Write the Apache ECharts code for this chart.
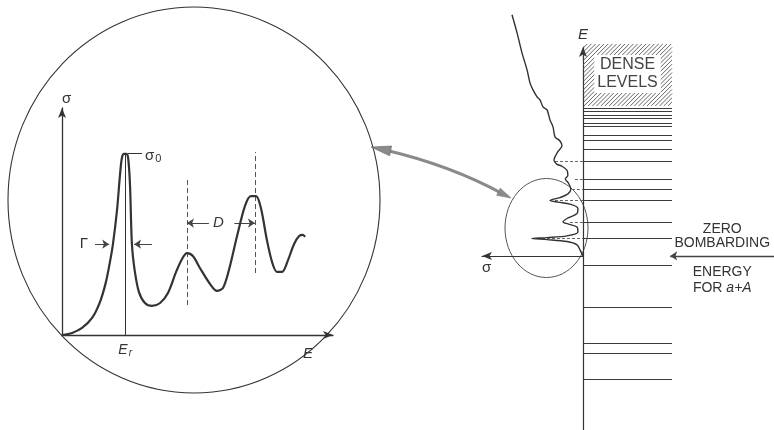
<!DOCTYPE html>
<html>
<head>
<meta charset="utf-8">
<script src="https://cdn.jsdelivr.net/npm/echarts@6/dist/echarts.min.js"></script>
<style>
  html, body { margin: 0; padding: 0; background: #fff; }
  #chart { width: 774px; height: 430px; }
</style>
</head>
<body>
<div id="chart"></div>
<script>
// ---------- magnified cross-section sigma(E) ----------
const resonanceCurve = [
  [0, 0], [0.37, 0.09], [0.74, 0.31], [1.11, 0.75], [1.40, 1.45], [1.62, 2.33],
  [1.77, 3.22], [1.88, 4.0], [2.03, 5.5], [2.14, 7.05], [2.21, 7.8], [2.29, 7.98],
  [2.37, 7.98], [2.44, 7.8], [2.51, 6.6], [2.58, 4.0], [2.69, 2.78], [2.84, 1.89],
  [3.06, 1.41], [3.32, 1.28], [3.62, 1.41], [3.91, 1.85], [4.21, 2.78], [4.43, 3.35],
  [4.61, 3.61], [4.83, 3.48], [5.09, 2.95], [5.46, 2.25], [5.72, 1.94], [5.94, 2.07],
  [6.16, 2.86], [6.46, 4.36], [6.75, 5.68], [6.97, 6.12], [7.16, 6.12], [7.34, 5.59],
  [7.56, 4.19], [7.75, 3.22], [7.93, 2.78], [8.12, 2.78], [8.34, 3.30], [8.56, 4.0],
  [8.75, 4.36], [8.89, 4.41], [8.97, 4.32]
];
const resonanceEnergy = 2.33;      // E_r
const peakCrossSection = 8;        // sigma_0
const peakShoulder = 2.44;         // right edge of the peak top
const leaderEnd = 2.95;
const spacingGuides = [[4.61, 1.32, 6.96], [7.12, 2.73, 8.06]];   // [E, sigma from, sigma to]
const widthHeight = 4.0;                                        // sigma where Gamma is marked
const widthArrows = [[1.22, 1.74], [3.32, 2.66]];               // [tail E, tip E]
const spacingHeight = 4.93;                                     // sigma where D is marked
const spacingArrows = [[5.42, 4.61], [6.36, 7.12]];             // [tail E, tip E]

// ---------- compound-nucleus levels ----------
const excitationCurve = [   // [sigma, E]
  [7.03, 11.08], [6.53, 10.25], [6.04, 9.33], [5.54, 8.55], [5.25, 7.95], [4.95, 7.63],
  [4.55, 7.31], [4.26, 7.17], [3.96, 6.85], [3.56, 6.71], [3.27, 6.25], [2.97, 5.93],
  [2.77, 5.47], [2.28, 5.28], [2.08, 5.06], [2.50, 4.78], [2.87, 4.40], [2.60, 4.22],
  [2.08, 4.12], [1.58, 3.93], [1.50, 3.70], [1.75, 3.53], [1.45, 3.35], [1.20, 3.07],
  [1.49, 2.85], [2.28, 2.68], [3.27, 2.55], [2.48, 2.47], [1.29, 2.38], [0.50, 2.18],
  [0.59, 1.95], [1.58, 1.72], [1.98, 1.56], [1.49, 1.47], [0.59, 1.33], [0.50, 1.10],
  [1.58, 0.92], [3.56, 0.84], [5.05, 0.80], [3.56, 0.75], [1.58, 0.66], [0.59, 0.51],
  [0.30, 0.28], [0, 0]
];
const peakLinks = [[2.77, 4.36], [0.8, 3.53], [1.1, 3.07], [2.77, 2.55], [1.3, 1.56], [4.06, 0.80]]; // [sigma, E]
const levelEnergies = [
  6.80, 6.64, 6.48, 6.31, 6.11, 5.97, 5.56, 5.33, 4.91, 4.36, 3.53, 3.07,
  2.55, 1.56, 0.80, -0.44, -2.35, -4.00, -4.46, -5.66
];
const denseBand = [6.89, 9.74];
const bombardingZero = 0;
const energyRange = [-8, 9.6];

const INK = '#333';
const FONT = 'Liberation Sans';

const chart = echarts.init(document.getElementById('chart'));

function arrowAxisLine(width, symbol) {
  return { show: true, symbol: symbol || ['none', 'arrow'], symbolSize: [6, 10],
           lineStyle: { color: INK, width: width } };
}

function segment(a, b) { return { coords: [a, b] }; }

// arrowhead polygon for the connector between the two views
function arrowHead(tip, from, len, half) {
  const dx = tip[0] - from[0], dy = tip[1] - from[1];
  const d = Math.hypot(dx, dy), ux = dx / d, uy = dy / d;
  const bx = tip[0] - ux * len, by = tip[1] - uy * len;
  return [tip, [bx - uy * half, by + ux * half], [bx + uy * half, by - ux * half]];
}

const connStart = [371, 147], connEnd = [511, 198], connCtrl = [450, 165];

const option = {
  animation: false,
  backgroundColor: '#fff',
  textStyle: { fontFamily: FONT, color: INK },
  grid: [
    { left: 62, top: 108, width: 271, height: 227 },
    { left: 482, top: 47, width: 101, height: 383 },
    { left: 583, top: 47, width: 89, height: 383 }
  ],
  xAxis: [
    {
      gridIndex: 0, type: 'value', min: 0, max: 10,
      axisLine: arrowAxisLine(1.3), axisTick: { show: false }, splitLine: { show: false },
      axisLabel: {
        customValues: [resonanceEnergy], margin: 7,
        formatter: () => '{e|E}{r|r}',
        rich: {
          e: { fontSize: 14, fontStyle: 'italic', color: INK, fontFamily: FONT },
          r: { fontSize: 10, fontStyle: 'italic', color: INK, fontFamily: FONT, padding: [6, 0, 0, 1] }
        }
      },
      name: 'E', nameLocation: 'end', nameGap: -25,
      nameTextStyle: { fontSize: 15, fontStyle: 'italic', align: 'center', verticalAlign: 'top', padding: [11, 0, 0, 0], color: INK }
    },
    {
      gridIndex: 1, type: 'value', min: 0, max: 10, inverse: true,
      axisLine: Object.assign(arrowAxisLine(1.2, ['arrow', 'none']), { onZero: true }),
      axisTick: { show: false }, axisLabel: { show: false }, splitLine: { show: false },
      name: 'σ', nameLocation: 'end', nameGap: 0,
      nameTextStyle: { fontSize: 15, align: 'left', verticalAlign: 'top', padding: [4, 0, 0, 0], color: INK }
    },
    { gridIndex: 2, type: 'value', min: 0, max: 1, show: false }
  ],
  yAxis: [
    {
      gridIndex: 0, type: 'value', min: 0, max: 10,
      axisLine: arrowAxisLine(1.3), axisTick: { show: false }, axisLabel: { show: false }, splitLine: { show: false },
      name: 'σ', nameLocation: 'end', nameGap: 2,
      nameTextStyle: { fontSize: 15, align: 'left', verticalAlign: 'bottom', color: INK }
    },
    { gridIndex: 1, type: 'value', min: energyRange[0], max: energyRange[1], show: false },
    {
      gridIndex: 2, type: 'value', min: energyRange[0], max: energyRange[1],
      axisLine: arrowAxisLine(1.2), axisTick: { show: false }, axisLabel: { show: false }, splitLine: { show: false },
      name: 'E', nameLocation: 'end', nameGap: 5,
      nameTextStyle: { fontSize: 15, fontStyle: 'italic', align: 'center', verticalAlign: 'bottom', color: INK }
    }
  ],
  series: [
    // resonance curve
    {
      type: 'line', xAxisIndex: 0, yAxisIndex: 0, data: resonanceCurve,
      smooth: 0.3, symbol: 'none', lineStyle: { color: INK, width: 2.2 }, z: 5
    },
    // E_r drop line and sigma_0 leader
    {
      type: 'lines', coordinateSystem: 'cartesian2d', xAxisIndex: 0, yAxisIndex: 0,
      lineStyle: { color: INK, width: 1, opacity: 1 }, symbol: 'none', silent: true,
      data: [
        segment([resonanceEnergy, 0], [resonanceEnergy, peakCrossSection]),
        {
          coords: [[peakShoulder, peakCrossSection], [leaderEnd, peakCrossSection]],
          label: {
            show: true, position: 'end', distance: 3,
            formatter: '{s|σ}{o|0}',
            rich: {
              s: { fontSize: 15, color: INK, fontFamily: FONT, padding: [4, 0, 0, 0] },
              o: { fontSize: 11, color: INK, fontFamily: FONT, padding: [11, 0, 0, 1] }
            }
          }
        }
      ]
    },
    // level-spacing guides
    {
      type: 'lines', coordinateSystem: 'cartesian2d', xAxisIndex: 0, yAxisIndex: 0,
      lineStyle: { color: '#555', width: 1, type: [5, 3], opacity: 1 }, symbol: 'none', silent: true,
      data: spacingGuides.map(g => segment([g[0], g[1]], [g[0], g[2]]))
    },
    // Gamma and D arrows
    {
      type: 'lines', coordinateSystem: 'cartesian2d', xAxisIndex: 0, yAxisIndex: 0,
      lineStyle: { color: '#444', width: 1.2, opacity: 1 }, symbol: ['none', 'arrow'], symbolSize: 7, silent: true,
      label: { show: false, color: INK, fontFamily: FONT, fontSize: 15 },
      data: [
        Object.assign(segment([widthArrows[0][0], widthHeight], [widthArrows[0][1], widthHeight]),
          { label: { show: true, position: 'start', distance: 7, formatter: 'Γ' } }),
        segment([widthArrows[1][0], widthHeight], [widthArrows[1][1], widthHeight]),
        Object.assign(segment([spacingArrows[0][0], spacingHeight], [spacingArrows[0][1], spacingHeight]),
          { label: { show: true, position: 'start', distance: 4, formatter: 'D', fontStyle: 'italic' } }),
        segment([spacingArrows[1][0], spacingHeight], [spacingArrows[1][1], spacingHeight])
      ]
    },
    // cross-section seen along the energy axis
    {
      type: 'line', xAxisIndex: 1, yAxisIndex: 1, data: excitationCurve, clip: false,
      smooth: 0.3, symbol: 'none', lineStyle: { color: INK, width: 1.4 }, z: 5
    },
    // peaks linked to their levels
    {
      type: 'lines', coordinateSystem: 'cartesian2d', xAxisIndex: 1, yAxisIndex: 1,
      lineStyle: { color: '#666', width: 1, type: [3, 2], opacity: 1 }, symbol: 'none', silent: true,
      data: peakLinks.map(p => segment([p[0], p[1]], [0, p[1]]))
    },
    // hatched band of dense levels
    {
      type: 'custom', xAxisIndex: 2, yAxisIndex: 2, data: [denseBand], silent: true, z: 1,
      renderItem(params, api) {
        const bottom = api.coord([0, api.value(0)]);
        const top = api.coord([1, api.value(1)]);
        const x0 = bottom[0], y0 = top[1], w = top[0] - bottom[0], h = bottom[1] - top[1];
        const children = [];
        const step = 4.2;
        for (let c = x0 + y0 + step; c < x0 + w + y0 + h; c += step) {
          const xa = Math.max(x0, c - (y0 + h));
          const xb = Math.min(x0 + w, c - y0);
          if (xb <= xa) continue;
          children.push({ type: 'line', shape: { x1: xa, y1: c - xa, x2: xb, y2: c - xb },
                          style: { stroke: '#555', lineWidth: 0.9 } });
        }
        children.push({
          type: 'text',
          style: {
            text: 'DENSE\nLEVELS', x: x0 + w / 2, y: y0 + h / 2 - 1,
            align: 'center', verticalAlign: 'middle',
            font: '16px "Liberation Sans"', lineHeight: 18, fill: '#444',
            backgroundColor: '#fff', padding: [1, 3]
          }
        });
        return { type: 'group', children: children };
      }
    },
    // discrete levels
    {
      type: 'lines', coordinateSystem: 'cartesian2d', xAxisIndex: 2, yAxisIndex: 2,
      lineStyle: { color: '#3c3c3c', width: 1.2, opacity: 1 }, symbol: 'none', silent: true,
      data: levelEnergies.map(e => segment([0, e], [1, e]))
    },
    // zero bombarding energy marker
    {
      type: 'lines', coordinateSystem: 'cartesian2d', xAxisIndex: 2, yAxisIndex: 2, clip: false,
      lineStyle: { color: '#444', width: 1.3, opacity: 1 }, symbol: ['arrow', 'none'], symbolSize: [7, 10], silent: true,
      label: {
        show: true, position: 'insideMiddleTop', distance: 6,
        formatter: 'ZERO\nBOMBARDING', align: 'center',
        fontSize: 14, lineHeight: 14, color: '#333', fontFamily: FONT
      },
      data: [segment([0.98, bombardingZero], [2.15, bombardingZero])]
    },
    {
      type: 'lines', coordinateSystem: 'cartesian2d', xAxisIndex: 2, yAxisIndex: 2, clip: false,
      lineStyle: { width: 1, color: 'rgba(255,255,255,0)', opacity: 1 }, symbol: 'none', silent: true,
      label: {
        show: true, position: 'insideMiddleBottom', distance: 8,
        formatter: 'ENERGY\nFOR {i|a+A}', align: 'center',
        fontSize: 14, lineHeight: 16, color: '#333', fontFamily: FONT,
        rich: { i: { fontSize: 14, fontStyle: 'italic', color: '#333', fontFamily: FONT } }
      },
      data: [segment([0.98, bombardingZero], [2.15, bombardingZero])]
    }
  ],
  graphic: [
    { type: 'ellipse', shape: { cx: 194, cy: 200, rx: 186, ry: 193 },
      style: { fill: 'none', stroke: INK, lineWidth: 1.1 }, silent: true },
    { type: 'ellipse', shape: { cx: 546.5, cy: 228, rx: 41.5, ry: 49.5 },
      style: { fill: 'none', stroke: '#555', lineWidth: 1 }, silent: true },
    { type: 'bezierCurve',
      shape: { x1: connStart[0] + 12, y1: connStart[1] + 2.5, cpx1: connCtrl[0], cpy1: connCtrl[1], x2: connEnd[0] - 8, y2: connEnd[1] - 4 },
      style: { fill: 'none', stroke: '#8a8a8a', lineWidth: 3 }, silent: true },
    { type: 'polygon', shape: { points: arrowHead(connStart, [connStart[0] + 25, connStart[1] + 5], 20, 5) },
      style: { fill: '#8a8a8a', stroke: '#666', lineWidth: 0.6 }, silent: true },
    { type: 'polygon', shape: { points: arrowHead(connEnd, [connEnd[0] - 22, connEnd[1] - 11], 14, 4) },
      style: { fill: '#8a8a8a', stroke: '#777', lineWidth: 0.6 }, silent: true }
  ]
};

chart.setOption(option);
</script>
</body>
</html>
